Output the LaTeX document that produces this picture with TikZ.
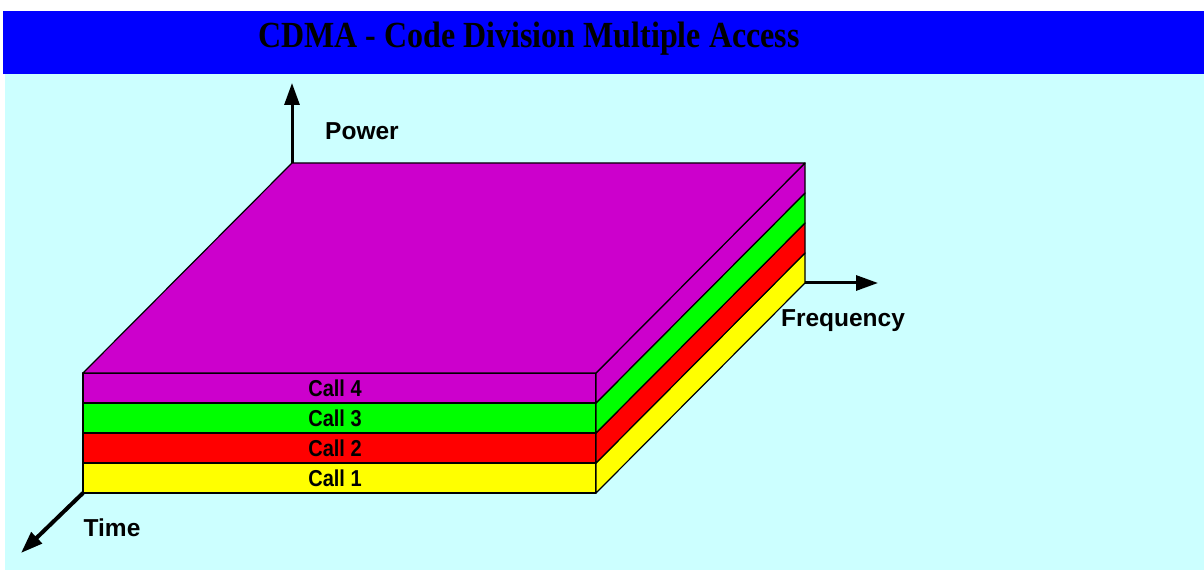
\documentclass[tikz,border=0pt]{standalone}
\usepackage{fontspec}
\setmainfont{Liberation Serif}
\setsansfont{Liberation Sans}
\usetikzlibrary{arrows.meta}
\definecolor{barblue}{HTML}{0000FF}
\definecolor{bgcyan}{HTML}{CCFFFF}
\definecolor{callfour}{HTML}{CC00CC}
\definecolor{callthree}{HTML}{00FF00}
\definecolor{calltwo}{HTML}{FF0000}
\definecolor{callone}{HTML}{FFFF00}
\tikzset{
  face/.style={draw=black, line width=1.2pt, line join=round},
  axis/.style={line width=3pt, -{Triangle[length=22pt,width=15pt]}},
  axislabel/.style={font=\sffamily\bfseries\fontsize{24.5}{24.5}\selectfont, inner sep=0pt},
  calllabel/.style={font=\sffamily\bfseries\fontsize{20}{20}\selectfont, inner sep=0pt},
}
\begin{document}
\begin{tikzpicture}[x=1pt,y=1pt]
\useasboundingbox (0,0) rectangle (1204,570);
\fill[white] (0,0) rectangle (1204,570);
\fill[barblue] (3,496) rectangle (1204,559);
\fill[bgcyan] (5,0) rectangle (1204,496);
\node[font=\bfseries\fontsize{32}{32}\selectfont, inner sep=0pt] (title) at (529,531) {\scalebox{1}[1.15]{CDMA - Code Division Multiple Access}};
% front face corners
\coordinate (fl) at (83,77);
\coordinate (fr) at (596,77);
\coordinate (bl) at (292,287);
\coordinate (br) at (805,287);
% layers: bottom y values
\foreach \b/\c in {77/callone,107/calltwo,137/callthree,167/callfour}{
  \pgfmathsetmacro{\t}{\b+30}
  \filldraw[face, fill=\c] (83,\b) rectangle (596,\t);
  \filldraw[face, fill=\c] (596,\b) -- (805,\b+210) -- (805,\t+210) -- (596,\t) -- cycle;
}
% top face
\filldraw[face, fill=callfour] (83,197) -- (596,197) -- (805,407) -- (292,407) -- cycle;
\coordinate (top) at (292,407);
\coordinate (powerend) at (292,487);
\coordinate (freqend) at (878,287);
\coordinate (timeend) at (21,17);
\draw[axis] (top) -- (powerend);
\draw[axis] (br) -- (freqend);
\draw[axis, line width=4pt] (fl) -- (timeend);
\node[calllabel] (c1) at (335,92) {\scalebox{1}[1.15]{Call 1}};
\node[calllabel] (c2) at (335,122) {\scalebox{1}[1.15]{Call 2}};
\node[calllabel] (c3) at (335,152) {\scalebox{1}[1.15]{Call 3}};
\node[calllabel] (c4) at (335,182) {\scalebox{1}[1.15]{Call 4}};
\node[axislabel] (power) at (362,439) {Power};
\node[axislabel] (freq) at (843,249) {Frequency};
\node[axislabel] (time) at (112,42) {Time};
\end{tikzpicture}
\end{document}
